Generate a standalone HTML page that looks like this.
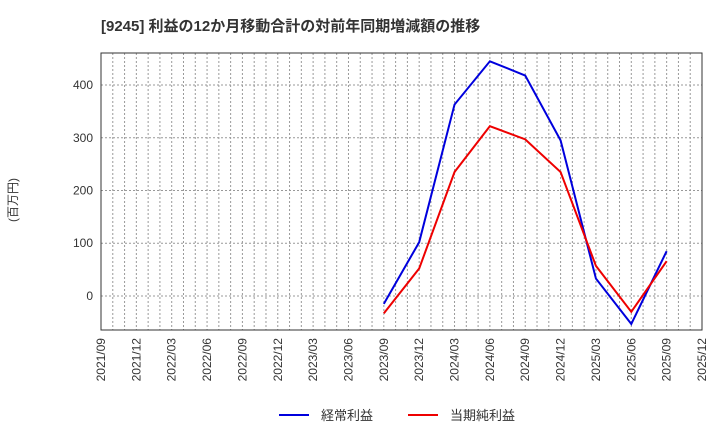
<!DOCTYPE html>
<html><head><meta charset="utf-8"><style>
body{margin:0;background:#fff;font-family:"Liberation Sans","Noto Sans CJK JP",sans-serif;}
svg text{font-family:"Liberation Sans","Noto Sans CJK JP",sans-serif;}
</style></head><body>
<svg id="c" width="720" height="440">
<text x="101" y="31" font-size="15" font-weight="bold" fill="#333">[9245]  利益の12か月移動合計の対前年同期増減額の推移</text>
<text transform="translate(17,200) rotate(-90)" font-size="12" fill="#333" text-anchor="middle">(百万円)</text>
<g id="grid"></g><g id="axes"></g><g id="series"></g>
<g>
<line x1="279" y1="415" x2="309" y2="415" stroke="#0000dd" stroke-width="2"/>
<text x="321" y="420" font-size="13" fill="#333">経常利益</text>
<line x1="408" y1="415" x2="438" y2="415" stroke="#ee0000" stroke-width="2"/>
<text x="450" y="420" font-size="13" fill="#333">当期純利益</text>
</g>
</svg>
<script>
const xLabels=["2021/09","2021/12","2022/03","2022/06","2022/09","2022/12","2023/03","2023/06","2023/09","2023/12","2024/03","2024/06","2024/09","2024/12","2025/03","2025/06","2025/09","2025/12"];
const yTicks=[0,100,200,300,400];
const seriesStart=8;
const keijo=[-15,102,363,445,418,295,33,-53,85];
const junri=[-33,52,235,322,297,235,57,-30,66];
const L=101,R=702,T=53,B=330,yMin=-64.5,yMax=460.7;
const ns="http://www.w3.org/2000/svg";
const X=q=>L+q*(R-L)/(xLabels.length-1);
const Y=v=>B-(v-yMin)/(yMax-yMin)*(B-T);
function mk(t,a,p){const e=document.createElementNS(ns,t);for(const k in a)e.setAttribute(k,a[k]);p.appendChild(e);return e;}
const g=document.getElementById('grid'),ax=document.getElementById('axes'),s=document.getElementById('series');
const months=(xLabels.length-1)*3;
for(let m=1;m<months;m++){const x=L+m*(R-L)/months;
const l=mk('line',{x1:x,x2:x,y1:T,y2:B,stroke:'#999','stroke-dasharray':'2,2','stroke-width':1},g);

}
yTicks.forEach(v=>{const y=Y(v);
const l=mk('line',{x1:L,x2:R,y1:y,y2:y,stroke:'#999','stroke-dasharray':'2,2','stroke-width':1},g);


const t=mk('text',{x:L-8,y:y+4,'font-size':12,fill:'#333','text-anchor':'end'},ax);t.textContent=v;

});
xLabels.forEach((lb,i)=>{const x=X(i);
const t=mk('text',{transform:`translate(${x+4},${B+8}) rotate(-90)`,'font-size':12,fill:'#333','text-anchor':'end'},ax);t.textContent=lb;

});
const fr=mk('rect',{x:L,y:T,width:R-L,height:B-T,fill:'none',stroke:'#333','stroke-width':1},ax);


[[keijo,'#0000dd','series-keijo'],[junri,'#ee0000','series-junri']].forEach(([d,c,n])=>{
const p=mk('polyline',{points:d.map((v,i)=>X(seriesStart+i)+','+Y(v)).join(' '),fill:'none',stroke:c,'stroke-width':2},s);

});
</script>
</body></html>
